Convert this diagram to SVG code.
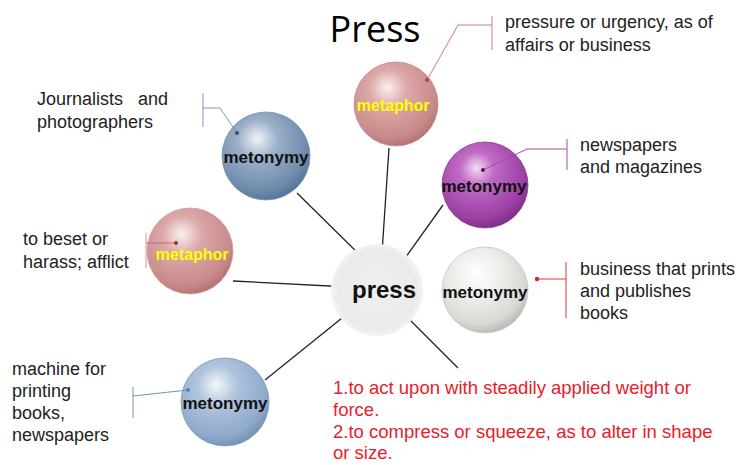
<svg xmlns="http://www.w3.org/2000/svg" width="741" height="465" viewBox="0 0 741 465">
<defs>
<radialGradient id="gBlueGray" cx="0.42" cy="0.35" r="0.65" fx="0.4" fy="0.3">
<stop offset="0" stop-color="#f0f3f7"/><stop offset="0.35" stop-color="#9bb0c8"/><stop offset="0.85" stop-color="#6e8aab"/><stop offset="1" stop-color="#58779b"/></radialGradient>
<radialGradient id="gPink" cx="0.42" cy="0.35" r="0.65" fx="0.4" fy="0.3">
<stop offset="0" stop-color="#fbf0f0"/><stop offset="0.35" stop-color="#dca8a8"/><stop offset="0.85" stop-color="#c88a8a"/><stop offset="1" stop-color="#b57676"/></radialGradient>
<radialGradient id="gPurple" cx="0.42" cy="0.35" r="0.65" fx="0.4" fy="0.3">
<stop offset="0" stop-color="#f4ddf4"/><stop offset="0.3" stop-color="#c06cc6"/><stop offset="0.85" stop-color="#9c3ea4"/><stop offset="1" stop-color="#80308a"/></radialGradient>
<radialGradient id="gWhite" cx="0.42" cy="0.35" r="0.65" fx="0.4" fy="0.3">
<stop offset="0" stop-color="#ffffff"/><stop offset="0.4" stop-color="#efefec"/><stop offset="0.85" stop-color="#d8d8d4"/><stop offset="1" stop-color="#bdbdb8"/></radialGradient>
<radialGradient id="gLightBlue" cx="0.42" cy="0.35" r="0.65" fx="0.4" fy="0.3">
<stop offset="0" stop-color="#f3f7fb"/><stop offset="0.35" stop-color="#b0c4dc"/><stop offset="0.85" stop-color="#8eaacb"/><stop offset="1" stop-color="#7894b8"/></radialGradient>
<radialGradient id="gCenter" cx="0.5" cy="0.5" r="0.5">
<stop offset="0" stop-color="#efefef"/><stop offset="0.85" stop-color="#eaeaea"/><stop offset="1" stop-color="#f3f3f3"/></radialGradient>
</defs>
<style>
text{font-family:"Liberation Sans",Arial,sans-serif;}
.t{font-size:18px;fill:#222;}
.red{font-size:18.5px;fill:#e8202a;}
.lbl{font-weight:bold;text-anchor:middle;}
.mty{fill:#111;font-size:17px;}
.mph{fill:#ffff00;font-size:16px;}
.conn line{stroke:#222;stroke-width:1.3;}
.co{fill:none;stroke-width:1;}
.title{font-family:"Open Sans","Liberation Sans",sans-serif;font-size:36px;fill:#000;text-anchor:middle;}
</style>
<text class="title" x="375" y="42">Press</text>

<g id="connectors" class="conn">
<line x1="381" y1="268" x2="389" y2="148"/>
<line x1="367" y1="262" x2="297" y2="193"/>
<line x1="398" y1="268" x2="443" y2="205"/>
<line x1="349" y1="287" x2="233" y2="281"/>
<line x1="347" y1="314" x2="265" y2="380"/>
<line x1="398" y1="308" x2="458" y2="368"/>
</g>

<g id="center">
<circle cx="377" cy="290" r="46" fill="url(#gCenter)"/>
<text x="384" y="298" style="font-size:24px;font-weight:bold;fill:#111;text-anchor:middle">press</text>
</g>

<g id="n-topleft">
<circle cx="266" cy="156" r="44" fill="url(#gBlueGray)" stroke="#7890ae" stroke-width="0.8"/>
<text class="lbl mty" x="266" y="163">metonymy</text>
<polyline class="co" stroke="#7e98b6" points="237,133 220,108 203,108"/>
<line class="co" stroke="#7e98b6" x1="203" y1="93" x2="203" y2="127"/>
<circle cx="237" cy="133" r="2" fill="#2f4f7a"/>
<text class="t" x="37" y="105" style="white-space:pre">Journalists   and</text>
<text class="t" x="37" y="128">photographers</text>
</g>

<g id="n-top">
<circle cx="396" cy="104" r="42" fill="url(#gPink)" stroke="#c48888" stroke-width="0.8"/>
<text class="lbl mph" x="393" y="111">metaphor</text>
<polyline class="co" stroke="#d07a86" points="427,80 458,25 492,25"/>
<line class="co" stroke="#d07a86" x1="492" y1="16" x2="492" y2="50"/>
<circle cx="427" cy="80" r="2" fill="#c03a4a"/>
<text class="t" x="505" y="28">pressure or urgency, as of</text>
<text class="t" x="505" y="51">affairs or business</text>
</g>

<g id="n-purple">
<circle cx="485" cy="185" r="43" fill="url(#gPurple)" stroke="#8c3a94" stroke-width="0.8"/>
<text class="lbl mty" x="484" y="192">metonymy</text>
<polyline class="co" stroke="#a04aa6" points="483,170 527,149 567,149"/>
<line class="co" stroke="#a04aa6" x1="567" y1="139" x2="567" y2="170"/>
<circle cx="483" cy="170" r="2" fill="#5a1060"/>
<text class="t" x="580" y="151">newspapers</text>
<text class="t" x="580" y="173">and magazines</text>
</g>

<g id="n-left">
<circle cx="190" cy="251" r="43" fill="url(#gPink)" stroke="#d4a0a0" stroke-width="0.8"/>
<text class="lbl mph" x="192" y="260">metaphor</text>
<polyline class="co" stroke="#c06a78" points="176,243 146,243"/>
<line class="co" stroke="#d09aa0" x1="146" y1="233" x2="146" y2="268"/>
<circle cx="176" cy="243" r="2" fill="#a03040"/>
<text class="t" x="23" y="245">to beset or</text>
<text class="t" x="23" y="268">harass; afflict</text>
</g>

<g id="n-white">
<circle cx="485" cy="290" r="43" fill="url(#gWhite)" stroke="#c8c8c4" stroke-width="0.8"/>
<text class="lbl mty" x="485" y="298">metonymy</text>
<polyline class="co" stroke="#e8303a" points="537,279 566,279"/>
<line class="co" stroke="#e8303a" x1="566" y1="262" x2="566" y2="318"/>
<circle cx="537" cy="279" r="2.2" fill="#e02030"/>
<text class="t" x="580" y="275">business that prints</text>
<text class="t" x="580" y="297">and publishes</text>
<text class="t" x="580" y="319">books</text>
</g>

<g id="n-bottomleft">
<circle cx="225" cy="402" r="44" fill="url(#gLightBlue)" stroke="#7c98bc" stroke-width="0.8"/>
<text class="lbl mty" x="225" y="409">metonymy</text>
<polyline class="co" stroke="#6a94c4" points="188,390 133,396"/>
<line class="co" stroke="#7a90aa" x1="133" y1="387" x2="133" y2="418"/>
<circle cx="188" cy="390" r="2" fill="#4a86c8"/>
<text class="t" x="12" y="375">machine for</text>
<text class="t" x="12" y="397">printing</text>
<text class="t" x="12" y="419">books,</text>
<text class="t" x="12" y="441">newspapers</text>
</g>

<g id="definitions">
<text class="red" x="333" y="394">1.to act upon with steadily applied weight or</text>
<text class="red" x="333" y="416">force.</text>
<text class="red" x="333" y="438">2.to compress or squeeze, as to alter in shape</text>
<text class="red" x="333" y="459">or size.</text>
</g>
</svg>
